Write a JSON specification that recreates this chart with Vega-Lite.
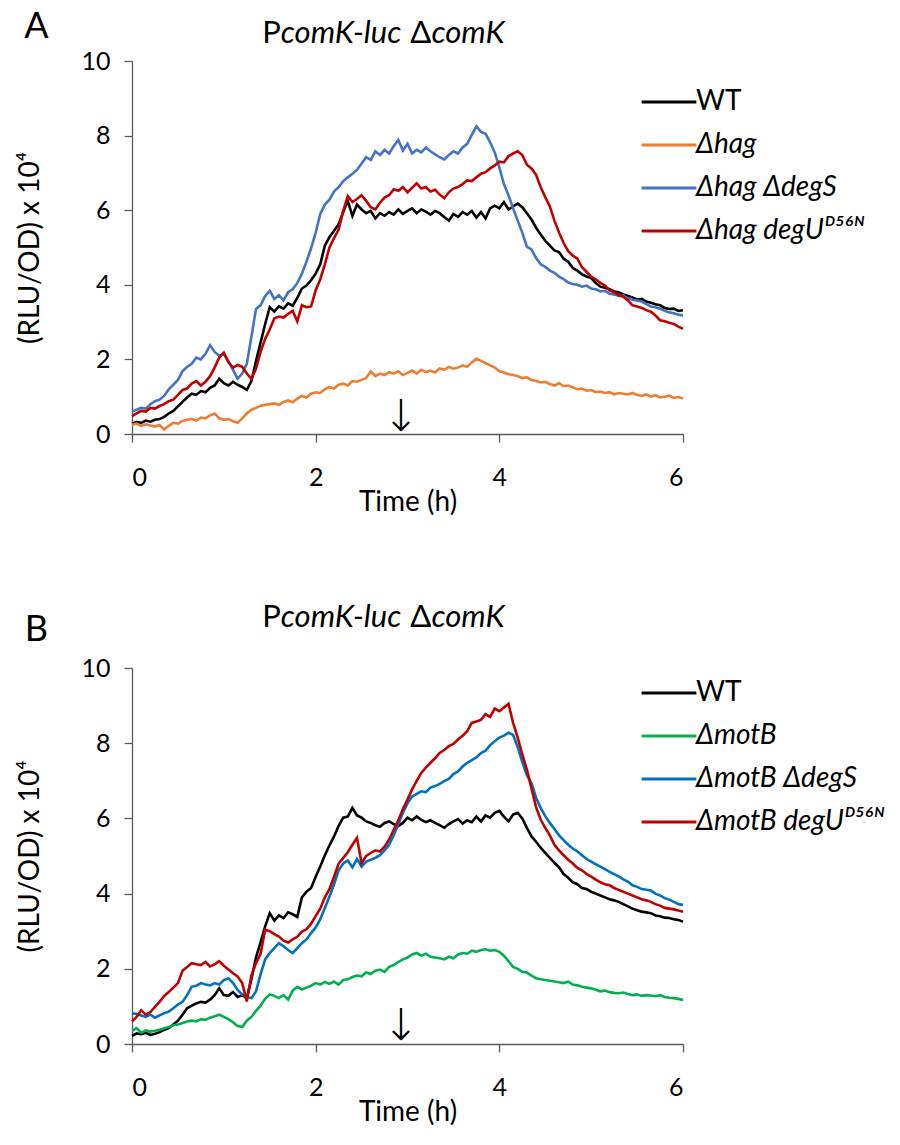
{
"$schema": "https://vega.github.io/schema/vega-lite/v6.json",
"background": "white",
"padding": {"left": 16, "top": 8, "right": 5, "bottom": 5},
"spacing": 86,
"resolve": {"scale": {"color": "independent"}, "legend": {"color": "independent"}},
"config": {
  "font": "Lato",
  "view": {"stroke": null},
  "axis": {"grid": false, "domainColor": "#595959", "tickColor": "#595959", "domainWidth": 1.3, "tickWidth": 1.3, "tickSize": 8, "labelColor": "#000", "titleColor": "#000", "labelFontSize": 25, "titleFontSize": 28, "titleFontWeight": "normal"},
  "legend": {"orient": "none", "symbolType": "stroke", "symbolSize": 3000, "symbolStrokeWidth": 3, "labelFontSize": 28, "labelOffset": -2, "rowPadding": -1, "labelLimit": 400, "labelColor": "#000"},
  "text": {"color": "#000"}
},
"datasets": {
"A": [
{"s":"WT","t":0,"v":0.28},{"s":"WT","t":0.05,"v":0.32},{"s":"WT","t":0.1,"v":0.30},{"s":"WT","t":0.15,"v":0.36},{"s":"WT","t":0.2,"v":0.33},{"s":"WT","t":0.25,"v":0.38},{"s":"WT","t":0.3,"v":0.40},{"s":"WT","t":0.35,"v":0.46},{"s":"WT","t":0.4,"v":0.55},{"s":"WT","t":0.45,"v":0.62},
{"s":"WT","t":0.5,"v":0.74},{"s":"WT","t":0.55,"v":0.86},{"s":"WT","t":0.6,"v":0.98},{"s":"WT","t":0.65,"v":1.08},{"s":"WT","t":0.7,"v":1.05},{"s":"WT","t":0.75,"v":1.15},{"s":"WT","t":0.8,"v":1.12},{"s":"WT","t":0.85,"v":1.24},{"s":"WT","t":0.9,"v":1.30},{"s":"WT","t":0.95,"v":1.48},
{"s":"WT","t":1.0,"v":1.36},{"s":"WT","t":1.05,"v":1.30},{"s":"WT","t":1.1,"v":1.40},{"s":"WT","t":1.15,"v":1.32},{"s":"WT","t":1.2,"v":1.26},{"s":"WT","t":1.25,"v":1.18},{"s":"WT","t":1.3,"v":1.42},{"s":"WT","t":1.35,"v":1.95},{"s":"WT","t":1.4,"v":2.45},{"s":"WT","t":1.45,"v":2.95},
{"s":"WT","t":1.5,"v":3.40},{"s":"WT","t":1.55,"v":3.28},{"s":"WT","t":1.6,"v":3.42},{"s":"WT","t":1.65,"v":3.36},{"s":"WT","t":1.7,"v":3.50},{"s":"WT","t":1.75,"v":3.44},{"s":"WT","t":1.8,"v":3.65},{"s":"WT","t":1.85,"v":3.90},{"s":"WT","t":1.9,"v":3.98},{"s":"WT","t":1.95,"v":4.12},
{"s":"WT","t":2.0,"v":4.30},{"s":"WT","t":2.05,"v":4.55},{"s":"WT","t":2.1,"v":5.05},{"s":"WT","t":2.15,"v":5.28},{"s":"WT","t":2.2,"v":5.45},{"s":"WT","t":2.25,"v":5.62},{"s":"WT","t":2.3,"v":5.95},{"s":"WT","t":2.35,"v":6.25},{"s":"WT","t":2.4,"v":5.85},{"s":"WT","t":2.45,"v":6.15},
{"s":"WT","t":2.5,"v":6.02},{"s":"WT","t":2.55,"v":5.92},{"s":"WT","t":2.6,"v":5.98},{"s":"WT","t":2.65,"v":5.78},{"s":"WT","t":2.7,"v":5.92},{"s":"WT","t":2.75,"v":5.85},{"s":"WT","t":2.8,"v":5.95},{"s":"WT","t":2.85,"v":5.88},{"s":"WT","t":2.9,"v":6.02},{"s":"WT","t":2.95,"v":5.90},
{"s":"WT","t":3.0,"v":5.98},{"s":"WT","t":3.05,"v":6.05},{"s":"WT","t":3.1,"v":5.92},{"s":"WT","t":3.15,"v":6.02},{"s":"WT","t":3.2,"v":5.96},{"s":"WT","t":3.25,"v":5.88},{"s":"WT","t":3.3,"v":5.98},{"s":"WT","t":3.35,"v":5.92},{"s":"WT","t":3.4,"v":5.82},{"s":"WT","t":3.45,"v":5.72},
{"s":"WT","t":3.5,"v":5.90},{"s":"WT","t":3.55,"v":5.82},{"s":"WT","t":3.6,"v":5.95},{"s":"WT","t":3.65,"v":5.88},{"s":"WT","t":3.7,"v":5.98},{"s":"WT","t":3.75,"v":5.80},{"s":"WT","t":3.8,"v":5.95},{"s":"WT","t":3.85,"v":5.78},{"s":"WT","t":3.9,"v":6.05},{"s":"WT","t":3.95,"v":6.12},
{"s":"WT","t":4.0,"v":6.05},{"s":"WT","t":4.05,"v":6.22},{"s":"WT","t":4.1,"v":6.02},{"s":"WT","t":4.15,"v":6.10},{"s":"WT","t":4.2,"v":6.18},{"s":"WT","t":4.25,"v":6.08},{"s":"WT","t":4.3,"v":5.92},{"s":"WT","t":4.35,"v":5.75},{"s":"WT","t":4.4,"v":5.53},{"s":"WT","t":4.45,"v":5.35},
{"s":"WT","t":4.5,"v":5.18},{"s":"WT","t":4.55,"v":5.05},{"s":"WT","t":4.6,"v":4.92},{"s":"WT","t":4.65,"v":4.88},{"s":"WT","t":4.7,"v":4.70},{"s":"WT","t":4.75,"v":4.62},{"s":"WT","t":4.8,"v":4.45},{"s":"WT","t":4.85,"v":4.38},{"s":"WT","t":4.9,"v":4.28},{"s":"WT","t":4.95,"v":4.22},
{"s":"WT","t":5.0,"v":4.18},{"s":"WT","t":5.05,"v":4.05},{"s":"WT","t":5.1,"v":3.95},{"s":"WT","t":5.15,"v":3.92},{"s":"WT","t":5.2,"v":3.88},{"s":"WT","t":5.25,"v":3.82},{"s":"WT","t":5.3,"v":3.80},{"s":"WT","t":5.35,"v":3.74},{"s":"WT","t":5.4,"v":3.70},{"s":"WT","t":5.45,"v":3.66},
{"s":"WT","t":5.5,"v":3.60},{"s":"WT","t":5.55,"v":3.62},{"s":"WT","t":5.6,"v":3.55},{"s":"WT","t":5.65,"v":3.52},{"s":"WT","t":5.7,"v":3.48},{"s":"WT","t":5.75,"v":3.45},{"s":"WT","t":5.8,"v":3.38},{"s":"WT","t":5.85,"v":3.35},{"s":"WT","t":5.9,"v":3.36},{"s":"WT","t":5.95,"v":3.30},{"s":"WT","t":6.0,"v":3.32},

{"s":"Δhag","t":0,"v":0.25},{"s":"Δhag","t":0.05,"v":0.28},{"s":"Δhag","t":0.1,"v":0.22},{"s":"Δhag","t":0.15,"v":0.26},{"s":"Δhag","t":0.2,"v":0.23},{"s":"Δhag","t":0.25,"v":0.20},{"s":"Δhag","t":0.3,"v":0.24},{"s":"Δhag","t":0.35,"v":0.12},{"s":"Δhag","t":0.4,"v":0.22},{"s":"Δhag","t":0.45,"v":0.30},
{"s":"Δhag","t":0.5,"v":0.28},{"s":"Δhag","t":0.55,"v":0.35},{"s":"Δhag","t":0.6,"v":0.38},{"s":"Δhag","t":0.65,"v":0.40},{"s":"Δhag","t":0.7,"v":0.36},{"s":"Δhag","t":0.75,"v":0.44},{"s":"Δhag","t":0.8,"v":0.42},{"s":"Δhag","t":0.85,"v":0.50},{"s":"Δhag","t":0.9,"v":0.55},{"s":"Δhag","t":0.95,"v":0.42},
{"s":"Δhag","t":1.0,"v":0.38},{"s":"Δhag","t":1.05,"v":0.40},{"s":"Δhag","t":1.1,"v":0.34},{"s":"Δhag","t":1.15,"v":0.30},{"s":"Δhag","t":1.2,"v":0.42},{"s":"Δhag","t":1.25,"v":0.55},{"s":"Δhag","t":1.3,"v":0.65},{"s":"Δhag","t":1.35,"v":0.70},{"s":"Δhag","t":1.4,"v":0.76},{"s":"Δhag","t":1.45,"v":0.78},
{"s":"Δhag","t":1.5,"v":0.80},{"s":"Δhag","t":1.55,"v":0.82},{"s":"Δhag","t":1.6,"v":0.78},{"s":"Δhag","t":1.65,"v":0.86},{"s":"Δhag","t":1.7,"v":0.90},{"s":"Δhag","t":1.75,"v":0.85},{"s":"Δhag","t":1.8,"v":0.95},{"s":"Δhag","t":1.85,"v":1.02},{"s":"Δhag","t":1.9,"v":0.98},{"s":"Δhag","t":1.95,"v":1.08},
{"s":"Δhag","t":2.0,"v":1.12},{"s":"Δhag","t":2.05,"v":1.10},{"s":"Δhag","t":2.1,"v":1.20},{"s":"Δhag","t":2.15,"v":1.26},{"s":"Δhag","t":2.2,"v":1.22},{"s":"Δhag","t":2.25,"v":1.32},{"s":"Δhag","t":2.3,"v":1.35},{"s":"Δhag","t":2.35,"v":1.30},{"s":"Δhag","t":2.4,"v":1.42},{"s":"Δhag","t":2.45,"v":1.40},
{"s":"Δhag","t":2.5,"v":1.45},{"s":"Δhag","t":2.55,"v":1.50},{"s":"Δhag","t":2.6,"v":1.68},{"s":"Δhag","t":2.65,"v":1.55},{"s":"Δhag","t":2.7,"v":1.62},{"s":"Δhag","t":2.75,"v":1.58},{"s":"Δhag","t":2.8,"v":1.66},{"s":"Δhag","t":2.85,"v":1.62},{"s":"Δhag","t":2.9,"v":1.68},{"s":"Δhag","t":2.95,"v":1.58},
{"s":"Δhag","t":3.0,"v":1.64},{"s":"Δhag","t":3.05,"v":1.70},{"s":"Δhag","t":3.1,"v":1.62},{"s":"Δhag","t":3.15,"v":1.72},{"s":"Δhag","t":3.2,"v":1.66},{"s":"Δhag","t":3.25,"v":1.70},{"s":"Δhag","t":3.3,"v":1.65},{"s":"Δhag","t":3.35,"v":1.76},{"s":"Δhag","t":3.4,"v":1.72},{"s":"Δhag","t":3.45,"v":1.80},
{"s":"Δhag","t":3.5,"v":1.75},{"s":"Δhag","t":3.55,"v":1.78},{"s":"Δhag","t":3.6,"v":1.84},{"s":"Δhag","t":3.65,"v":1.80},{"s":"Δhag","t":3.7,"v":1.92},{"s":"Δhag","t":3.75,"v":2.02},{"s":"Δhag","t":3.8,"v":1.96},{"s":"Δhag","t":3.85,"v":1.90},{"s":"Δhag","t":3.9,"v":1.84},{"s":"Δhag","t":3.95,"v":1.78},
{"s":"Δhag","t":4.0,"v":1.68},{"s":"Δhag","t":4.05,"v":1.65},{"s":"Δhag","t":4.1,"v":1.60},{"s":"Δhag","t":4.15,"v":1.58},{"s":"Δhag","t":4.2,"v":1.55},{"s":"Δhag","t":4.25,"v":1.50},{"s":"Δhag","t":4.3,"v":1.52},{"s":"Δhag","t":4.35,"v":1.45},{"s":"Δhag","t":4.4,"v":1.42},{"s":"Δhag","t":4.45,"v":1.38},
{"s":"Δhag","t":4.5,"v":1.40},{"s":"Δhag","t":4.55,"v":1.34},{"s":"Δhag","t":4.6,"v":1.30},{"s":"Δhag","t":4.65,"v":1.36},{"s":"Δhag","t":4.7,"v":1.28},{"s":"Δhag","t":4.75,"v":1.30},{"s":"Δhag","t":4.8,"v":1.25},{"s":"Δhag","t":4.85,"v":1.20},{"s":"Δhag","t":4.9,"v":1.22},{"s":"Δhag","t":4.95,"v":1.16},
{"s":"Δhag","t":5.0,"v":1.18},{"s":"Δhag","t":5.05,"v":1.12},{"s":"Δhag","t":5.1,"v":1.14},{"s":"Δhag","t":5.15,"v":1.10},{"s":"Δhag","t":5.2,"v":1.12},{"s":"Δhag","t":5.25,"v":1.06},{"s":"Δhag","t":5.3,"v":1.10},{"s":"Δhag","t":5.35,"v":1.08},{"s":"Δhag","t":5.4,"v":1.06},{"s":"Δhag","t":5.45,"v":1.10},
{"s":"Δhag","t":5.5,"v":1.05},{"s":"Δhag","t":5.55,"v":1.02},{"s":"Δhag","t":5.6,"v":1.06},{"s":"Δhag","t":5.65,"v":1.00},{"s":"Δhag","t":5.7,"v":1.04},{"s":"Δhag","t":5.75,"v":0.98},{"s":"Δhag","t":5.8,"v":1.00},{"s":"Δhag","t":5.85,"v":1.03},{"s":"Δhag","t":5.9,"v":0.97},{"s":"Δhag","t":5.95,"v":0.99},{"s":"Δhag","t":6.0,"v":0.95},

{"s":"Δhag ΔdegS","t":0,"v":0.60},{"s":"Δhag ΔdegS","t":0.05,"v":0.65},{"s":"Δhag ΔdegS","t":0.1,"v":0.70},{"s":"Δhag ΔdegS","t":0.15,"v":0.68},{"s":"Δhag ΔdegS","t":0.2,"v":0.80},{"s":"Δhag ΔdegS","t":0.25,"v":0.88},{"s":"Δhag ΔdegS","t":0.3,"v":0.92},{"s":"Δhag ΔdegS","t":0.35,"v":1.02},{"s":"Δhag ΔdegS","t":0.4,"v":1.20},{"s":"Δhag ΔdegS","t":0.45,"v":1.32},
{"s":"Δhag ΔdegS","t":0.5,"v":1.45},{"s":"Δhag ΔdegS","t":0.55,"v":1.68},{"s":"Δhag ΔdegS","t":0.6,"v":1.80},{"s":"Δhag ΔdegS","t":0.65,"v":1.88},{"s":"Δhag ΔdegS","t":0.7,"v":2.05},{"s":"Δhag ΔdegS","t":0.75,"v":2.00},{"s":"Δhag ΔdegS","t":0.8,"v":2.15},{"s":"Δhag ΔdegS","t":0.85,"v":2.38},{"s":"Δhag ΔdegS","t":0.9,"v":2.20},{"s":"Δhag ΔdegS","t":0.95,"v":2.10},
{"s":"Δhag ΔdegS","t":1.0,"v":2.15},{"s":"Δhag ΔdegS","t":1.05,"v":1.95},{"s":"Δhag ΔdegS","t":1.1,"v":1.72},{"s":"Δhag ΔdegS","t":1.15,"v":1.48},{"s":"Δhag ΔdegS","t":1.2,"v":1.62},{"s":"Δhag ΔdegS","t":1.25,"v":1.88},{"s":"Δhag ΔdegS","t":1.3,"v":2.60},{"s":"Δhag ΔdegS","t":1.35,"v":3.35},{"s":"Δhag ΔdegS","t":1.4,"v":3.45},{"s":"Δhag ΔdegS","t":1.45,"v":3.70},
{"s":"Δhag ΔdegS","t":1.5,"v":3.84},{"s":"Δhag ΔdegS","t":1.55,"v":3.62},{"s":"Δhag ΔdegS","t":1.6,"v":3.72},{"s":"Δhag ΔdegS","t":1.65,"v":3.58},{"s":"Δhag ΔdegS","t":1.7,"v":3.80},{"s":"Δhag ΔdegS","t":1.75,"v":3.88},{"s":"Δhag ΔdegS","t":1.8,"v":4.05},{"s":"Δhag ΔdegS","t":1.85,"v":4.30},{"s":"Δhag ΔdegS","t":1.9,"v":4.62},{"s":"Δhag ΔdegS","t":1.95,"v":4.98},
{"s":"Δhag ΔdegS","t":2.0,"v":5.40},{"s":"Δhag ΔdegS","t":2.05,"v":5.90},{"s":"Δhag ΔdegS","t":2.1,"v":6.15},{"s":"Δhag ΔdegS","t":2.15,"v":6.28},{"s":"Δhag ΔdegS","t":2.2,"v":6.50},{"s":"Δhag ΔdegS","t":2.25,"v":6.62},{"s":"Δhag ΔdegS","t":2.3,"v":6.78},{"s":"Δhag ΔdegS","t":2.35,"v":6.88},{"s":"Δhag ΔdegS","t":2.4,"v":6.98},{"s":"Δhag ΔdegS","t":2.45,"v":7.08},
{"s":"Δhag ΔdegS","t":2.5,"v":7.25},{"s":"Δhag ΔdegS","t":2.55,"v":7.42},{"s":"Δhag ΔdegS","t":2.6,"v":7.35},{"s":"Δhag ΔdegS","t":2.65,"v":7.58},{"s":"Δhag ΔdegS","t":2.7,"v":7.48},{"s":"Δhag ΔdegS","t":2.75,"v":7.62},{"s":"Δhag ΔdegS","t":2.8,"v":7.52},{"s":"Δhag ΔdegS","t":2.85,"v":7.72},{"s":"Δhag ΔdegS","t":2.9,"v":7.88},{"s":"Δhag ΔdegS","t":2.95,"v":7.60},
{"s":"Δhag ΔdegS","t":3.0,"v":7.78},{"s":"Δhag ΔdegS","t":3.05,"v":7.52},{"s":"Δhag ΔdegS","t":3.1,"v":7.62},{"s":"Δhag ΔdegS","t":3.15,"v":7.55},{"s":"Δhag ΔdegS","t":3.2,"v":7.68},{"s":"Δhag ΔdegS","t":3.25,"v":7.58},{"s":"Δhag ΔdegS","t":3.3,"v":7.50},{"s":"Δhag ΔdegS","t":3.35,"v":7.42},{"s":"Δhag ΔdegS","t":3.4,"v":7.36},{"s":"Δhag ΔdegS","t":3.45,"v":7.48},
{"s":"Δhag ΔdegS","t":3.5,"v":7.58},{"s":"Δhag ΔdegS","t":3.55,"v":7.52},{"s":"Δhag ΔdegS","t":3.6,"v":7.68},{"s":"Δhag ΔdegS","t":3.65,"v":7.78},{"s":"Δhag ΔdegS","t":3.7,"v":8.02},{"s":"Δhag ΔdegS","t":3.75,"v":8.25},{"s":"Δhag ΔdegS","t":3.8,"v":8.10},{"s":"Δhag ΔdegS","t":3.85,"v":8.05},{"s":"Δhag ΔdegS","t":3.9,"v":7.82},{"s":"Δhag ΔdegS","t":3.95,"v":7.55},
{"s":"Δhag ΔdegS","t":4.0,"v":7.15},{"s":"Δhag ΔdegS","t":4.05,"v":6.70},{"s":"Δhag ΔdegS","t":4.1,"v":6.40},{"s":"Δhag ΔdegS","t":4.15,"v":6.05},{"s":"Δhag ΔdegS","t":4.2,"v":5.72},{"s":"Δhag ΔdegS","t":4.25,"v":5.40},{"s":"Δhag ΔdegS","t":4.3,"v":5.02},{"s":"Δhag ΔdegS","t":4.35,"v":4.95},{"s":"Δhag ΔdegS","t":4.4,"v":4.72},{"s":"Δhag ΔdegS","t":4.45,"v":4.55},
{"s":"Δhag ΔdegS","t":4.5,"v":4.48},{"s":"Δhag ΔdegS","t":4.55,"v":4.38},{"s":"Δhag ΔdegS","t":4.6,"v":4.32},{"s":"Δhag ΔdegS","t":4.65,"v":4.22},{"s":"Δhag ΔdegS","t":4.7,"v":4.15},{"s":"Δhag ΔdegS","t":4.75,"v":4.06},{"s":"Δhag ΔdegS","t":4.8,"v":4.02},{"s":"Δhag ΔdegS","t":4.85,"v":4.00},{"s":"Δhag ΔdegS","t":4.9,"v":3.95},{"s":"Δhag ΔdegS","t":4.95,"v":3.98},
{"s":"Δhag ΔdegS","t":5.0,"v":3.90},{"s":"Δhag ΔdegS","t":5.05,"v":3.88},{"s":"Δhag ΔdegS","t":5.1,"v":3.82},{"s":"Δhag ΔdegS","t":5.15,"v":3.84},{"s":"Δhag ΔdegS","t":5.2,"v":3.76},{"s":"Δhag ΔdegS","t":5.25,"v":3.74},{"s":"Δhag ΔdegS","t":5.3,"v":3.70},{"s":"Δhag ΔdegS","t":5.35,"v":3.72},{"s":"Δhag ΔdegS","t":5.4,"v":3.64},{"s":"Δhag ΔdegS","t":5.45,"v":3.60},
{"s":"Δhag ΔdegS","t":5.5,"v":3.58},{"s":"Δhag ΔdegS","t":5.55,"v":3.55},{"s":"Δhag ΔdegS","t":5.6,"v":3.48},{"s":"Δhag ΔdegS","t":5.65,"v":3.42},{"s":"Δhag ΔdegS","t":5.7,"v":3.40},{"s":"Δhag ΔdegS","t":5.75,"v":3.36},{"s":"Δhag ΔdegS","t":5.8,"v":3.30},{"s":"Δhag ΔdegS","t":5.85,"v":3.26},{"s":"Δhag ΔdegS","t":5.9,"v":3.24},{"s":"Δhag ΔdegS","t":5.95,"v":3.20},{"s":"Δhag ΔdegS","t":6.0,"v":3.18},

{"s":"Δhag degUᴰ⁵⁶ᴺ","t":0,"v":0.48},{"s":"Δhag degUᴰ⁵⁶ᴺ","t":0.05,"v":0.55},{"s":"Δhag degUᴰ⁵⁶ᴺ","t":0.1,"v":0.62},{"s":"Δhag degUᴰ⁵⁶ᴺ","t":0.15,"v":0.60},{"s":"Δhag degUᴰ⁵⁶ᴺ","t":0.2,"v":0.70},{"s":"Δhag degUᴰ⁵⁶ᴺ","t":0.25,"v":0.68},{"s":"Δhag degUᴰ⁵⁶ᴺ","t":0.3,"v":0.75},{"s":"Δhag degUᴰ⁵⁶ᴺ","t":0.35,"v":0.80},{"s":"Δhag degUᴰ⁵⁶ᴺ","t":0.4,"v":0.88},{"s":"Δhag degUᴰ⁵⁶ᴺ","t":0.45,"v":0.92},
{"s":"Δhag degUᴰ⁵⁶ᴺ","t":0.5,"v":1.05},{"s":"Δhag degUᴰ⁵⁶ᴺ","t":0.55,"v":1.18},{"s":"Δhag degUᴰ⁵⁶ᴺ","t":0.6,"v":1.22},{"s":"Δhag degUᴰ⁵⁶ᴺ","t":0.65,"v":1.35},{"s":"Δhag degUᴰ⁵⁶ᴺ","t":0.7,"v":1.42},{"s":"Δhag degUᴰ⁵⁶ᴺ","t":0.75,"v":1.30},{"s":"Δhag degUᴰ⁵⁶ᴺ","t":0.8,"v":1.40},{"s":"Δhag degUᴰ⁵⁶ᴺ","t":0.85,"v":1.55},{"s":"Δhag degUᴰ⁵⁶ᴺ","t":0.9,"v":1.78},{"s":"Δhag degUᴰ⁵⁶ᴺ","t":0.95,"v":2.05},
{"s":"Δhag degUᴰ⁵⁶ᴺ","t":1.0,"v":2.18},{"s":"Δhag degUᴰ⁵⁶ᴺ","t":1.05,"v":1.92},{"s":"Δhag degUᴰ⁵⁶ᴺ","t":1.1,"v":1.78},{"s":"Δhag degUᴰ⁵⁶ᴺ","t":1.15,"v":1.85},{"s":"Δhag degUᴰ⁵⁶ᴺ","t":1.2,"v":1.80},{"s":"Δhag degUᴰ⁵⁶ᴺ","t":1.25,"v":1.62},{"s":"Δhag degUᴰ⁵⁶ᴺ","t":1.3,"v":1.48},{"s":"Δhag degUᴰ⁵⁶ᴺ","t":1.35,"v":1.75},{"s":"Δhag degUᴰ⁵⁶ᴺ","t":1.4,"v":2.20},{"s":"Δhag degUᴰ⁵⁶ᴺ","t":1.45,"v":2.55},
{"s":"Δhag degUᴰ⁵⁶ᴺ","t":1.5,"v":2.80},{"s":"Δhag degUᴰ⁵⁶ᴺ","t":1.55,"v":3.10},{"s":"Δhag degUᴰ⁵⁶ᴺ","t":1.6,"v":3.15},{"s":"Δhag degUᴰ⁵⁶ᴺ","t":1.65,"v":3.12},{"s":"Δhag degUᴰ⁵⁶ᴺ","t":1.7,"v":3.22},{"s":"Δhag degUᴰ⁵⁶ᴺ","t":1.75,"v":3.30},{"s":"Δhag degUᴰ⁵⁶ᴺ","t":1.8,"v":3.02},{"s":"Δhag degUᴰ⁵⁶ᴺ","t":1.85,"v":3.45},{"s":"Δhag degUᴰ⁵⁶ᴺ","t":1.9,"v":3.40},{"s":"Δhag degUᴰ⁵⁶ᴺ","t":1.95,"v":3.42},
{"s":"Δhag degUᴰ⁵⁶ᴺ","t":2.0,"v":3.85},{"s":"Δhag degUᴰ⁵⁶ᴺ","t":2.05,"v":4.15},{"s":"Δhag degUᴰ⁵⁶ᴺ","t":2.1,"v":4.55},{"s":"Δhag degUᴰ⁵⁶ᴺ","t":2.15,"v":5.00},{"s":"Δhag degUᴰ⁵⁶ᴺ","t":2.2,"v":5.25},{"s":"Δhag degUᴰ⁵⁶ᴺ","t":2.25,"v":5.48},{"s":"Δhag degUᴰ⁵⁶ᴺ","t":2.3,"v":5.98},{"s":"Δhag degUᴰ⁵⁶ᴺ","t":2.35,"v":6.38},{"s":"Δhag degUᴰ⁵⁶ᴺ","t":2.4,"v":6.22},{"s":"Δhag degUᴰ⁵⁶ᴺ","t":2.45,"v":6.30},
{"s":"Δhag degUᴰ⁵⁶ᴺ","t":2.5,"v":6.40},{"s":"Δhag degUᴰ⁵⁶ᴺ","t":2.55,"v":6.25},{"s":"Δhag degUᴰ⁵⁶ᴺ","t":2.6,"v":6.08},{"s":"Δhag degUᴰ⁵⁶ᴺ","t":2.65,"v":6.02},{"s":"Δhag degUᴰ⁵⁶ᴺ","t":2.7,"v":6.20},{"s":"Δhag degUᴰ⁵⁶ᴺ","t":2.75,"v":6.34},{"s":"Δhag degUᴰ⁵⁶ᴺ","t":2.8,"v":6.40},{"s":"Δhag degUᴰ⁵⁶ᴺ","t":2.85,"v":6.56},{"s":"Δhag degUᴰ⁵⁶ᴺ","t":2.9,"v":6.52},{"s":"Δhag degUᴰ⁵⁶ᴺ","t":2.95,"v":6.62},
{"s":"Δhag degUᴰ⁵⁶ᴺ","t":3.0,"v":6.48},{"s":"Δhag degUᴰ⁵⁶ᴺ","t":3.05,"v":6.60},{"s":"Δhag degUᴰ⁵⁶ᴺ","t":3.1,"v":6.72},{"s":"Δhag degUᴰ⁵⁶ᴺ","t":3.15,"v":6.58},{"s":"Δhag degUᴰ⁵⁶ᴺ","t":3.2,"v":6.62},{"s":"Δhag degUᴰ⁵⁶ᴺ","t":3.25,"v":6.50},{"s":"Δhag degUᴰ⁵⁶ᴺ","t":3.3,"v":6.55},{"s":"Δhag degUᴰ⁵⁶ᴺ","t":3.35,"v":6.42},{"s":"Δhag degUᴰ⁵⁶ᴺ","t":3.4,"v":6.32},{"s":"Δhag degUᴰ⁵⁶ᴺ","t":3.45,"v":6.48},
{"s":"Δhag degUᴰ⁵⁶ᴺ","t":3.5,"v":6.58},{"s":"Δhag degUᴰ⁵⁶ᴺ","t":3.55,"v":6.62},{"s":"Δhag degUᴰ⁵⁶ᴺ","t":3.6,"v":6.70},{"s":"Δhag degUᴰ⁵⁶ᴺ","t":3.65,"v":6.80},{"s":"Δhag degUᴰ⁵⁶ᴺ","t":3.7,"v":6.78},{"s":"Δhag degUᴰ⁵⁶ᴺ","t":3.75,"v":6.88},{"s":"Δhag degUᴰ⁵⁶ᴺ","t":3.8,"v":6.98},{"s":"Δhag degUᴰ⁵⁶ᴺ","t":3.85,"v":7.02},{"s":"Δhag degUᴰ⁵⁶ᴺ","t":3.9,"v":7.12},{"s":"Δhag degUᴰ⁵⁶ᴺ","t":3.95,"v":7.20},
{"s":"Δhag degUᴰ⁵⁶ᴺ","t":4.0,"v":7.30},{"s":"Δhag degUᴰ⁵⁶ᴺ","t":4.05,"v":7.28},{"s":"Δhag degUᴰ⁵⁶ᴺ","t":4.1,"v":7.45},{"s":"Δhag degUᴰ⁵⁶ᴺ","t":4.15,"v":7.52},{"s":"Δhag degUᴰ⁵⁶ᴺ","t":4.2,"v":7.58},{"s":"Δhag degUᴰ⁵⁶ᴺ","t":4.25,"v":7.48},{"s":"Δhag degUᴰ⁵⁶ᴺ","t":4.3,"v":7.22},{"s":"Δhag degUᴰ⁵⁶ᴺ","t":4.35,"v":7.12},{"s":"Δhag degUᴰ⁵⁶ᴺ","t":4.4,"v":6.95},{"s":"Δhag degUᴰ⁵⁶ᴺ","t":4.45,"v":6.62},
{"s":"Δhag degUᴰ⁵⁶ᴺ","t":4.5,"v":6.35},{"s":"Δhag degUᴰ⁵⁶ᴺ","t":4.55,"v":6.10},{"s":"Δhag degUᴰ⁵⁶ᴺ","t":4.6,"v":5.72},{"s":"Δhag degUᴰ⁵⁶ᴺ","t":4.65,"v":5.40},{"s":"Δhag degUᴰ⁵⁶ᴺ","t":4.7,"v":5.12},{"s":"Δhag degUᴰ⁵⁶ᴺ","t":4.75,"v":4.90},{"s":"Δhag degUᴰ⁵⁶ᴺ","t":4.8,"v":4.78},{"s":"Δhag degUᴰ⁵⁶ᴺ","t":4.85,"v":4.70},{"s":"Δhag degUᴰ⁵⁶ᴺ","t":4.9,"v":4.47},{"s":"Δhag degUᴰ⁵⁶ᴺ","t":4.95,"v":4.35},
{"s":"Δhag degUᴰ⁵⁶ᴺ","t":5.0,"v":4.22},{"s":"Δhag degUᴰ⁵⁶ᴺ","t":5.05,"v":4.15},{"s":"Δhag degUᴰ⁵⁶ᴺ","t":5.1,"v":4.05},{"s":"Δhag degUᴰ⁵⁶ᴺ","t":5.15,"v":3.98},{"s":"Δhag degUᴰ⁵⁶ᴺ","t":5.2,"v":3.85},{"s":"Δhag degUᴰ⁵⁶ᴺ","t":5.25,"v":3.80},{"s":"Δhag degUᴰ⁵⁶ᴺ","t":5.3,"v":3.72},{"s":"Δhag degUᴰ⁵⁶ᴺ","t":5.35,"v":3.68},{"s":"Δhag degUᴰ⁵⁶ᴺ","t":5.4,"v":3.58},{"s":"Δhag degUᴰ⁵⁶ᴺ","t":5.45,"v":3.45},
{"s":"Δhag degUᴰ⁵⁶ᴺ","t":5.5,"v":3.42},{"s":"Δhag degUᴰ⁵⁶ᴺ","t":5.55,"v":3.38},{"s":"Δhag degUᴰ⁵⁶ᴺ","t":5.6,"v":3.32},{"s":"Δhag degUᴰ⁵⁶ᴺ","t":5.65,"v":3.28},{"s":"Δhag degUᴰ⁵⁶ᴺ","t":5.7,"v":3.18},{"s":"Δhag degUᴰ⁵⁶ᴺ","t":5.75,"v":3.05},{"s":"Δhag degUᴰ⁵⁶ᴺ","t":5.8,"v":3.02},{"s":"Δhag degUᴰ⁵⁶ᴺ","t":5.85,"v":2.98},{"s":"Δhag degUᴰ⁵⁶ᴺ","t":5.9,"v":2.95},{"s":"Δhag degUᴰ⁵⁶ᴺ","t":5.95,"v":2.88},{"s":"Δhag degUᴰ⁵⁶ᴺ","t":6.0,"v":2.82}
],
"B": [
{"s":"WT","t":0,"v":0.22},{"s":"WT","t":0.05,"v":0.28},{"s":"WT","t":0.1,"v":0.26},{"s":"WT","t":0.15,"v":0.30},{"s":"WT","t":0.2,"v":0.24},{"s":"WT","t":0.25,"v":0.27},{"s":"WT","t":0.3,"v":0.32},{"s":"WT","t":0.35,"v":0.38},{"s":"WT","t":0.4,"v":0.42},{"s":"WT","t":0.45,"v":0.52},
{"s":"WT","t":0.5,"v":0.62},{"s":"WT","t":0.55,"v":0.78},{"s":"WT","t":0.6,"v":0.95},{"s":"WT","t":0.65,"v":1.02},{"s":"WT","t":0.7,"v":1.08},{"s":"WT","t":0.75,"v":1.12},{"s":"WT","t":0.8,"v":1.10},{"s":"WT","t":0.85,"v":1.18},{"s":"WT","t":0.9,"v":1.30},{"s":"WT","t":0.95,"v":1.48},
{"s":"WT","t":1.0,"v":1.30},{"s":"WT","t":1.05,"v":1.28},{"s":"WT","t":1.1,"v":1.38},{"s":"WT","t":1.15,"v":1.25},{"s":"WT","t":1.2,"v":1.30},{"s":"WT","t":1.25,"v":1.22},{"s":"WT","t":1.3,"v":1.72},{"s":"WT","t":1.35,"v":2.30},{"s":"WT","t":1.4,"v":2.70},{"s":"WT","t":1.45,"v":3.13},
{"s":"WT","t":1.5,"v":3.48},{"s":"WT","t":1.55,"v":3.28},{"s":"WT","t":1.6,"v":3.42},{"s":"WT","t":1.65,"v":3.35},{"s":"WT","t":1.7,"v":3.50},{"s":"WT","t":1.75,"v":3.45},{"s":"WT","t":1.8,"v":3.38},{"s":"WT","t":1.85,"v":3.90},{"s":"WT","t":1.9,"v":4.05},{"s":"WT","t":1.95,"v":4.15},
{"s":"WT","t":2.0,"v":4.45},{"s":"WT","t":2.05,"v":4.72},{"s":"WT","t":2.1,"v":5.02},{"s":"WT","t":2.15,"v":5.28},{"s":"WT","t":2.2,"v":5.52},{"s":"WT","t":2.25,"v":5.80},{"s":"WT","t":2.3,"v":6.02},{"s":"WT","t":2.35,"v":6.05},{"s":"WT","t":2.4,"v":6.28},{"s":"WT","t":2.45,"v":6.08},
{"s":"WT","t":2.5,"v":6.02},{"s":"WT","t":2.55,"v":5.92},{"s":"WT","t":2.6,"v":5.88},{"s":"WT","t":2.65,"v":5.82},{"s":"WT","t":2.7,"v":5.78},{"s":"WT","t":2.75,"v":5.88},{"s":"WT","t":2.8,"v":5.92},{"s":"WT","t":2.85,"v":5.85},{"s":"WT","t":2.9,"v":5.80},{"s":"WT","t":2.95,"v":5.88},
{"s":"WT","t":3.0,"v":6.02},{"s":"WT","t":3.05,"v":5.95},{"s":"WT","t":3.1,"v":6.05},{"s":"WT","t":3.15,"v":5.96},{"s":"WT","t":3.2,"v":5.90},{"s":"WT","t":3.25,"v":5.95},{"s":"WT","t":3.3,"v":5.88},{"s":"WT","t":3.35,"v":5.82},{"s":"WT","t":3.4,"v":5.75},{"s":"WT","t":3.45,"v":5.85},
{"s":"WT","t":3.5,"v":5.92},{"s":"WT","t":3.55,"v":5.98},{"s":"WT","t":3.6,"v":5.86},{"s":"WT","t":3.65,"v":5.95},{"s":"WT","t":3.7,"v":5.90},{"s":"WT","t":3.75,"v":6.05},{"s":"WT","t":3.8,"v":5.92},{"s":"WT","t":3.85,"v":6.08},{"s":"WT","t":3.9,"v":6.02},{"s":"WT","t":3.95,"v":6.15},
{"s":"WT","t":4.0,"v":6.20},{"s":"WT","t":4.05,"v":6.05},{"s":"WT","t":4.1,"v":5.92},{"s":"WT","t":4.15,"v":6.10},{"s":"WT","t":4.2,"v":6.15},{"s":"WT","t":4.25,"v":6.00},{"s":"WT","t":4.3,"v":5.75},{"s":"WT","t":4.35,"v":5.52},{"s":"WT","t":4.4,"v":5.38},{"s":"WT","t":4.45,"v":5.22},
{"s":"WT","t":4.5,"v":5.08},{"s":"WT","t":4.55,"v":4.95},{"s":"WT","t":4.6,"v":4.82},{"s":"WT","t":4.65,"v":4.70},{"s":"WT","t":4.7,"v":4.52},{"s":"WT","t":4.75,"v":4.42},{"s":"WT","t":4.8,"v":4.30},{"s":"WT","t":4.85,"v":4.25},{"s":"WT","t":4.9,"v":4.15},{"s":"WT","t":4.95,"v":4.12},
{"s":"WT","t":5.0,"v":4.05},{"s":"WT","t":5.05,"v":4.00},{"s":"WT","t":5.1,"v":3.95},{"s":"WT","t":5.15,"v":3.90},{"s":"WT","t":5.2,"v":3.85},{"s":"WT","t":5.25,"v":3.82},{"s":"WT","t":5.3,"v":3.78},{"s":"WT","t":5.35,"v":3.72},{"s":"WT","t":5.4,"v":3.66},{"s":"WT","t":5.45,"v":3.60},
{"s":"WT","t":5.5,"v":3.56},{"s":"WT","t":5.55,"v":3.52},{"s":"WT","t":5.6,"v":3.50},{"s":"WT","t":5.65,"v":3.48},{"s":"WT","t":5.7,"v":3.42},{"s":"WT","t":5.75,"v":3.40},{"s":"WT","t":5.8,"v":3.36},{"s":"WT","t":5.85,"v":3.35},{"s":"WT","t":5.9,"v":3.32},{"s":"WT","t":5.95,"v":3.30},{"s":"WT","t":6.0,"v":3.25},

{"s":"ΔmotB","t":0,"v":0.35},{"s":"ΔmotB","t":0.05,"v":0.42},{"s":"ΔmotB","t":0.1,"v":0.30},{"s":"ΔmotB","t":0.15,"v":0.36},{"s":"ΔmotB","t":0.2,"v":0.33},{"s":"ΔmotB","t":0.25,"v":0.35},{"s":"ΔmotB","t":0.3,"v":0.38},{"s":"ΔmotB","t":0.35,"v":0.42},{"s":"ΔmotB","t":0.4,"v":0.45},{"s":"ΔmotB","t":0.45,"v":0.50},
{"s":"ΔmotB","t":0.5,"v":0.52},{"s":"ΔmotB","t":0.55,"v":0.56},{"s":"ΔmotB","t":0.6,"v":0.60},{"s":"ΔmotB","t":0.65,"v":0.62},{"s":"ΔmotB","t":0.7,"v":0.60},{"s":"ΔmotB","t":0.75,"v":0.66},{"s":"ΔmotB","t":0.8,"v":0.64},{"s":"ΔmotB","t":0.85,"v":0.70},{"s":"ΔmotB","t":0.9,"v":0.74},{"s":"ΔmotB","t":0.95,"v":0.78},
{"s":"ΔmotB","t":1.0,"v":0.72},{"s":"ΔmotB","t":1.05,"v":0.66},{"s":"ΔmotB","t":1.1,"v":0.58},{"s":"ΔmotB","t":1.15,"v":0.48},{"s":"ΔmotB","t":1.2,"v":0.45},{"s":"ΔmotB","t":1.25,"v":0.62},{"s":"ΔmotB","t":1.3,"v":0.72},{"s":"ΔmotB","t":1.35,"v":0.88},{"s":"ΔmotB","t":1.4,"v":1.02},{"s":"ΔmotB","t":1.45,"v":1.20},
{"s":"ΔmotB","t":1.5,"v":1.32},{"s":"ΔmotB","t":1.55,"v":1.28},{"s":"ΔmotB","t":1.6,"v":1.22},{"s":"ΔmotB","t":1.65,"v":1.30},{"s":"ΔmotB","t":1.7,"v":1.18},{"s":"ΔmotB","t":1.75,"v":1.42},{"s":"ΔmotB","t":1.8,"v":1.52},{"s":"ΔmotB","t":1.85,"v":1.45},{"s":"ΔmotB","t":1.9,"v":1.50},{"s":"ΔmotB","t":1.95,"v":1.55},
{"s":"ΔmotB","t":2.0,"v":1.62},{"s":"ΔmotB","t":2.05,"v":1.58},{"s":"ΔmotB","t":2.1,"v":1.65},{"s":"ΔmotB","t":2.15,"v":1.60},{"s":"ΔmotB","t":2.2,"v":1.66},{"s":"ΔmotB","t":2.25,"v":1.58},{"s":"ΔmotB","t":2.3,"v":1.70},{"s":"ΔmotB","t":2.35,"v":1.72},{"s":"ΔmotB","t":2.4,"v":1.78},{"s":"ΔmotB","t":2.45,"v":1.82},
{"s":"ΔmotB","t":2.5,"v":1.80},{"s":"ΔmotB","t":2.55,"v":1.90},{"s":"ΔmotB","t":2.6,"v":1.86},{"s":"ΔmotB","t":2.65,"v":1.95},{"s":"ΔmotB","t":2.7,"v":1.98},{"s":"ΔmotB","t":2.75,"v":1.92},{"s":"ΔmotB","t":2.8,"v":2.05},{"s":"ΔmotB","t":2.85,"v":2.10},{"s":"ΔmotB","t":2.9,"v":2.18},{"s":"ΔmotB","t":2.95,"v":2.25},
{"s":"ΔmotB","t":3.0,"v":2.30},{"s":"ΔmotB","t":3.05,"v":2.38},{"s":"ΔmotB","t":3.1,"v":2.42},{"s":"ΔmotB","t":3.15,"v":2.35},{"s":"ΔmotB","t":3.2,"v":2.40},{"s":"ΔmotB","t":3.25,"v":2.32},{"s":"ΔmotB","t":3.3,"v":2.30},{"s":"ΔmotB","t":3.35,"v":2.28},{"s":"ΔmotB","t":3.4,"v":2.25},{"s":"ΔmotB","t":3.45,"v":2.32},
{"s":"ΔmotB","t":3.5,"v":2.28},{"s":"ΔmotB","t":3.55,"v":2.38},{"s":"ΔmotB","t":3.6,"v":2.42},{"s":"ΔmotB","t":3.65,"v":2.40},{"s":"ΔmotB","t":3.7,"v":2.48},{"s":"ΔmotB","t":3.75,"v":2.45},{"s":"ΔmotB","t":3.8,"v":2.50},{"s":"ΔmotB","t":3.85,"v":2.52},{"s":"ΔmotB","t":3.9,"v":2.48},{"s":"ΔmotB","t":3.95,"v":2.50},
{"s":"ΔmotB","t":4.0,"v":2.45},{"s":"ΔmotB","t":4.05,"v":2.35},{"s":"ΔmotB","t":4.1,"v":2.20},{"s":"ΔmotB","t":4.15,"v":2.05},{"s":"ΔmotB","t":4.2,"v":2.00},{"s":"ΔmotB","t":4.25,"v":1.92},{"s":"ΔmotB","t":4.3,"v":1.90},{"s":"ΔmotB","t":4.35,"v":1.82},{"s":"ΔmotB","t":4.4,"v":1.75},{"s":"ΔmotB","t":4.45,"v":1.72},
{"s":"ΔmotB","t":4.5,"v":1.70},{"s":"ΔmotB","t":4.55,"v":1.68},{"s":"ΔmotB","t":4.6,"v":1.66},{"s":"ΔmotB","t":4.65,"v":1.64},{"s":"ΔmotB","t":4.7,"v":1.62},{"s":"ΔmotB","t":4.75,"v":1.66},{"s":"ΔmotB","t":4.8,"v":1.58},{"s":"ΔmotB","t":4.85,"v":1.56},{"s":"ΔmotB","t":4.9,"v":1.52},{"s":"ΔmotB","t":4.95,"v":1.50},
{"s":"ΔmotB","t":5.0,"v":1.48},{"s":"ΔmotB","t":5.05,"v":1.44},{"s":"ΔmotB","t":5.1,"v":1.40},{"s":"ΔmotB","t":5.15,"v":1.42},{"s":"ΔmotB","t":5.2,"v":1.38},{"s":"ΔmotB","t":5.25,"v":1.36},{"s":"ΔmotB","t":5.3,"v":1.35},{"s":"ΔmotB","t":5.35,"v":1.37},{"s":"ΔmotB","t":5.4,"v":1.33},{"s":"ΔmotB","t":5.45,"v":1.30},
{"s":"ΔmotB","t":5.5,"v":1.32},{"s":"ΔmotB","t":5.55,"v":1.28},{"s":"ΔmotB","t":5.6,"v":1.30},{"s":"ΔmotB","t":5.65,"v":1.29},{"s":"ΔmotB","t":5.7,"v":1.27},{"s":"ΔmotB","t":5.75,"v":1.30},{"s":"ΔmotB","t":5.8,"v":1.25},{"s":"ΔmotB","t":5.85,"v":1.23},{"s":"ΔmotB","t":5.9,"v":1.22},{"s":"ΔmotB","t":5.95,"v":1.20},{"s":"ΔmotB","t":6.0,"v":1.17},

{"s":"ΔmotB ΔdegS","t":0,"v":0.82},{"s":"ΔmotB ΔdegS","t":0.05,"v":0.80},{"s":"ΔmotB ΔdegS","t":0.1,"v":0.76},{"s":"ΔmotB ΔdegS","t":0.15,"v":0.72},{"s":"ΔmotB ΔdegS","t":0.2,"v":0.78},{"s":"ΔmotB ΔdegS","t":0.25,"v":0.70},{"s":"ΔmotB ΔdegS","t":0.3,"v":0.76},{"s":"ΔmotB ΔdegS","t":0.35,"v":0.82},{"s":"ΔmotB ΔdegS","t":0.4,"v":0.86},{"s":"ΔmotB ΔdegS","t":0.45,"v":0.95},
{"s":"ΔmotB ΔdegS","t":0.5,"v":1.05},{"s":"ΔmotB ΔdegS","t":0.55,"v":1.12},{"s":"ΔmotB ΔdegS","t":0.6,"v":1.30},{"s":"ΔmotB ΔdegS","t":0.65,"v":1.52},{"s":"ΔmotB ΔdegS","t":0.7,"v":1.55},{"s":"ΔmotB ΔdegS","t":0.75,"v":1.62},{"s":"ΔmotB ΔdegS","t":0.8,"v":1.58},{"s":"ΔmotB ΔdegS","t":0.85,"v":1.56},{"s":"ΔmotB ΔdegS","t":0.9,"v":1.62},{"s":"ΔmotB ΔdegS","t":0.95,"v":1.58},
{"s":"ΔmotB ΔdegS","t":1.0,"v":1.70},{"s":"ΔmotB ΔdegS","t":1.05,"v":1.75},{"s":"ΔmotB ΔdegS","t":1.1,"v":1.62},{"s":"ΔmotB ΔdegS","t":1.15,"v":1.44},{"s":"ΔmotB ΔdegS","t":1.2,"v":1.32},{"s":"ΔmotB ΔdegS","t":1.25,"v":1.26},{"s":"ΔmotB ΔdegS","t":1.3,"v":1.22},{"s":"ΔmotB ΔdegS","t":1.35,"v":1.40},{"s":"ΔmotB ΔdegS","t":1.4,"v":1.85},{"s":"ΔmotB ΔdegS","t":1.45,"v":2.25},
{"s":"ΔmotB ΔdegS","t":1.5,"v":2.42},{"s":"ΔmotB ΔdegS","t":1.55,"v":2.55},{"s":"ΔmotB ΔdegS","t":1.6,"v":2.68},{"s":"ΔmotB ΔdegS","t":1.65,"v":2.60},{"s":"ΔmotB ΔdegS","t":1.7,"v":2.50},{"s":"ΔmotB ΔdegS","t":1.75,"v":2.42},{"s":"ΔmotB ΔdegS","t":1.8,"v":2.55},{"s":"ΔmotB ΔdegS","t":1.85,"v":2.68},{"s":"ΔmotB ΔdegS","t":1.9,"v":2.78},{"s":"ΔmotB ΔdegS","t":1.95,"v":2.95},
{"s":"ΔmotB ΔdegS","t":2.0,"v":3.10},{"s":"ΔmotB ΔdegS","t":2.05,"v":3.32},{"s":"ΔmotB ΔdegS","t":2.1,"v":3.62},{"s":"ΔmotB ΔdegS","t":2.15,"v":3.92},{"s":"ΔmotB ΔdegS","t":2.2,"v":4.25},{"s":"ΔmotB ΔdegS","t":2.25,"v":4.62},{"s":"ΔmotB ΔdegS","t":2.3,"v":4.80},{"s":"ΔmotB ΔdegS","t":2.35,"v":4.88},{"s":"ΔmotB ΔdegS","t":2.4,"v":4.70},{"s":"ΔmotB ΔdegS","t":2.45,"v":4.92},
{"s":"ΔmotB ΔdegS","t":2.5,"v":4.72},{"s":"ΔmotB ΔdegS","t":2.55,"v":4.85},{"s":"ΔmotB ΔdegS","t":2.6,"v":4.90},{"s":"ΔmotB ΔdegS","t":2.65,"v":4.95},{"s":"ΔmotB ΔdegS","t":2.7,"v":5.02},{"s":"ΔmotB ΔdegS","t":2.75,"v":5.15},{"s":"ΔmotB ΔdegS","t":2.8,"v":5.30},{"s":"ΔmotB ΔdegS","t":2.85,"v":5.55},{"s":"ΔmotB ΔdegS","t":2.9,"v":5.85},{"s":"ΔmotB ΔdegS","t":2.95,"v":6.15},
{"s":"ΔmotB ΔdegS","t":3.0,"v":6.40},{"s":"ΔmotB ΔdegS","t":3.05,"v":6.58},{"s":"ΔmotB ΔdegS","t":3.1,"v":6.65},{"s":"ΔmotB ΔdegS","t":3.15,"v":6.72},{"s":"ΔmotB ΔdegS","t":3.2,"v":6.70},{"s":"ΔmotB ΔdegS","t":3.25,"v":6.82},{"s":"ΔmotB ΔdegS","t":3.3,"v":6.86},{"s":"ΔmotB ΔdegS","t":3.35,"v":6.92},{"s":"ΔmotB ΔdegS","t":3.4,"v":6.99},{"s":"ΔmotB ΔdegS","t":3.45,"v":7.05},
{"s":"ΔmotB ΔdegS","t":3.5,"v":7.18},{"s":"ΔmotB ΔdegS","t":3.55,"v":7.25},{"s":"ΔmotB ΔdegS","t":3.6,"v":7.38},{"s":"ΔmotB ΔdegS","t":3.65,"v":7.48},{"s":"ΔmotB ΔdegS","t":3.7,"v":7.55},{"s":"ΔmotB ΔdegS","t":3.75,"v":7.62},{"s":"ΔmotB ΔdegS","t":3.8,"v":7.74},{"s":"ΔmotB ΔdegS","t":3.85,"v":7.80},{"s":"ΔmotB ΔdegS","t":3.9,"v":7.95},{"s":"ΔmotB ΔdegS","t":3.95,"v":8.05},
{"s":"ΔmotB ΔdegS","t":4.0,"v":8.15},{"s":"ΔmotB ΔdegS","t":4.05,"v":8.20},{"s":"ΔmotB ΔdegS","t":4.1,"v":8.28},{"s":"ΔmotB ΔdegS","t":4.15,"v":8.22},{"s":"ΔmotB ΔdegS","t":4.2,"v":7.90},{"s":"ΔmotB ΔdegS","t":4.25,"v":7.50},{"s":"ΔmotB ΔdegS","t":4.3,"v":7.15},{"s":"ΔmotB ΔdegS","t":4.35,"v":6.94},{"s":"ΔmotB ΔdegS","t":4.4,"v":6.55},{"s":"ΔmotB ΔdegS","t":4.45,"v":6.28},
{"s":"ΔmotB ΔdegS","t":4.5,"v":6.06},{"s":"ΔmotB ΔdegS","t":4.55,"v":5.88},{"s":"ΔmotB ΔdegS","t":4.6,"v":5.72},{"s":"ΔmotB ΔdegS","t":4.65,"v":5.55},{"s":"ΔmotB ΔdegS","t":4.7,"v":5.42},{"s":"ΔmotB ΔdegS","t":4.75,"v":5.30},{"s":"ΔmotB ΔdegS","t":4.8,"v":5.20},{"s":"ΔmotB ΔdegS","t":4.85,"v":5.12},{"s":"ΔmotB ΔdegS","t":4.9,"v":5.02},{"s":"ΔmotB ΔdegS","t":4.95,"v":4.92},
{"s":"ΔmotB ΔdegS","t":5.0,"v":4.85},{"s":"ΔmotB ΔdegS","t":5.05,"v":4.78},{"s":"ΔmotB ΔdegS","t":5.1,"v":4.72},{"s":"ΔmotB ΔdegS","t":5.15,"v":4.65},{"s":"ΔmotB ΔdegS","t":5.2,"v":4.58},{"s":"ΔmotB ΔdegS","t":5.25,"v":4.52},{"s":"ΔmotB ΔdegS","t":5.3,"v":4.46},{"s":"ΔmotB ΔdegS","t":5.35,"v":4.38},{"s":"ΔmotB ΔdegS","t":5.4,"v":4.32},{"s":"ΔmotB ΔdegS","t":5.45,"v":4.22},
{"s":"ΔmotB ΔdegS","t":5.5,"v":4.18},{"s":"ΔmotB ΔdegS","t":5.55,"v":4.12},{"s":"ΔmotB ΔdegS","t":5.6,"v":4.10},{"s":"ΔmotB ΔdegS","t":5.65,"v":4.08},{"s":"ΔmotB ΔdegS","t":5.7,"v":4.00},{"s":"ΔmotB ΔdegS","t":5.75,"v":3.95},{"s":"ΔmotB ΔdegS","t":5.8,"v":3.88},{"s":"ΔmotB ΔdegS","t":5.85,"v":3.84},{"s":"ΔmotB ΔdegS","t":5.9,"v":3.78},{"s":"ΔmotB ΔdegS","t":5.95,"v":3.72},{"s":"ΔmotB ΔdegS","t":6.0,"v":3.70},

{"s":"ΔmotB degUᴰ⁵⁶ᴺ","t":0,"v":0.60},{"s":"ΔmotB degUᴰ⁵⁶ᴺ","t":0.05,"v":0.72},{"s":"ΔmotB degUᴰ⁵⁶ᴺ","t":0.1,"v":0.90},{"s":"ΔmotB degUᴰ⁵⁶ᴺ","t":0.15,"v":0.78},{"s":"ΔmotB degUᴰ⁵⁶ᴺ","t":0.2,"v":0.85},{"s":"ΔmotB degUᴰ⁵⁶ᴺ","t":0.25,"v":0.99},{"s":"ΔmotB degUᴰ⁵⁶ᴺ","t":0.3,"v":1.12},{"s":"ΔmotB degUᴰ⁵⁶ᴺ","t":0.35,"v":1.28},{"s":"ΔmotB degUᴰ⁵⁶ᴺ","t":0.4,"v":1.38},{"s":"ΔmotB degUᴰ⁵⁶ᴺ","t":0.45,"v":1.50},
{"s":"ΔmotB degUᴰ⁵⁶ᴺ","t":0.5,"v":1.62},{"s":"ΔmotB degUᴰ⁵⁶ᴺ","t":0.55,"v":1.95},{"s":"ΔmotB degUᴰ⁵⁶ᴺ","t":0.6,"v":2.05},{"s":"ΔmotB degUᴰ⁵⁶ᴺ","t":0.65,"v":2.15},{"s":"ΔmotB degUᴰ⁵⁶ᴺ","t":0.7,"v":2.12},{"s":"ΔmotB degUᴰ⁵⁶ᴺ","t":0.75,"v":2.10},{"s":"ΔmotB degUᴰ⁵⁶ᴺ","t":0.8,"v":2.18},{"s":"ΔmotB degUᴰ⁵⁶ᴺ","t":0.85,"v":2.06},{"s":"ΔmotB degUᴰ⁵⁶ᴺ","t":0.9,"v":2.12},{"s":"ΔmotB degUᴰ⁵⁶ᴺ","t":0.95,"v":2.20},
{"s":"ΔmotB degUᴰ⁵⁶ᴺ","t":1.0,"v":2.08},{"s":"ΔmotB degUᴰ⁵⁶ᴺ","t":1.05,"v":1.98},{"s":"ΔmotB degUᴰ⁵⁶ᴺ","t":1.1,"v":1.88},{"s":"ΔmotB degUᴰ⁵⁶ᴺ","t":1.15,"v":1.80},{"s":"ΔmotB degUᴰ⁵⁶ᴺ","t":1.2,"v":1.62},{"s":"ΔmotB degUᴰ⁵⁶ᴺ","t":1.25,"v":1.13},{"s":"ΔmotB degUᴰ⁵⁶ᴺ","t":1.3,"v":1.82},{"s":"ΔmotB degUᴰ⁵⁶ᴺ","t":1.35,"v":2.15},{"s":"ΔmotB degUᴰ⁵⁶ᴺ","t":1.4,"v":2.40},{"s":"ΔmotB degUᴰ⁵⁶ᴺ","t":1.45,"v":3.04},
{"s":"ΔmotB degUᴰ⁵⁶ᴺ","t":1.5,"v":3.00},{"s":"ΔmotB degUᴰ⁵⁶ᴺ","t":1.55,"v":2.92},{"s":"ΔmotB degUᴰ⁵⁶ᴺ","t":1.6,"v":2.86},{"s":"ΔmotB degUᴰ⁵⁶ᴺ","t":1.65,"v":2.75},{"s":"ΔmotB degUᴰ⁵⁶ᴺ","t":1.7,"v":2.70},{"s":"ΔmotB degUᴰ⁵⁶ᴺ","t":1.75,"v":2.78},{"s":"ΔmotB degUᴰ⁵⁶ᴺ","t":1.8,"v":2.85},{"s":"ΔmotB degUᴰ⁵⁶ᴺ","t":1.85,"v":2.99},{"s":"ΔmotB degUᴰ⁵⁶ᴺ","t":1.9,"v":3.05},{"s":"ΔmotB degUᴰ⁵⁶ᴺ","t":1.95,"v":3.20},
{"s":"ΔmotB degUᴰ⁵⁶ᴺ","t":2.0,"v":3.40},{"s":"ΔmotB degUᴰ⁵⁶ᴺ","t":2.05,"v":3.60},{"s":"ΔmotB degUᴰ⁵⁶ᴺ","t":2.1,"v":3.90},{"s":"ΔmotB degUᴰ⁵⁶ᴺ","t":2.15,"v":4.12},{"s":"ΔmotB degUᴰ⁵⁶ᴺ","t":2.2,"v":4.45},{"s":"ΔmotB degUᴰ⁵⁶ᴺ","t":2.25,"v":4.80},{"s":"ΔmotB degUᴰ⁵⁶ᴺ","t":2.3,"v":4.95},{"s":"ΔmotB degUᴰ⁵⁶ᴺ","t":2.35,"v":5.10},{"s":"ΔmotB degUᴰ⁵⁶ᴺ","t":2.4,"v":5.30},{"s":"ΔmotB degUᴰ⁵⁶ᴺ","t":2.45,"v":5.48},
{"s":"ΔmotB degUᴰ⁵⁶ᴺ","t":2.5,"v":4.81},{"s":"ΔmotB degUᴰ⁵⁶ᴺ","t":2.55,"v":5.00},{"s":"ΔmotB degUᴰ⁵⁶ᴺ","t":2.6,"v":5.08},{"s":"ΔmotB degUᴰ⁵⁶ᴺ","t":2.65,"v":5.15},{"s":"ΔmotB degUᴰ⁵⁶ᴺ","t":2.7,"v":5.12},{"s":"ΔmotB degUᴰ⁵⁶ᴺ","t":2.75,"v":5.25},{"s":"ΔmotB degUᴰ⁵⁶ᴺ","t":2.8,"v":5.44},{"s":"ΔmotB degUᴰ⁵⁶ᴺ","t":2.85,"v":5.70},{"s":"ΔmotB degUᴰ⁵⁶ᴺ","t":2.9,"v":5.95},{"s":"ΔmotB degUᴰ⁵⁶ᴺ","t":2.95,"v":6.25},
{"s":"ΔmotB degUᴰ⁵⁶ᴺ","t":3.0,"v":6.50},{"s":"ΔmotB degUᴰ⁵⁶ᴺ","t":3.05,"v":6.77},{"s":"ΔmotB degUᴰ⁵⁶ᴺ","t":3.1,"v":7.00},{"s":"ΔmotB degUᴰ⁵⁶ᴺ","t":3.15,"v":7.21},{"s":"ΔmotB degUᴰ⁵⁶ᴺ","t":3.2,"v":7.35},{"s":"ΔmotB degUᴰ⁵⁶ᴺ","t":3.25,"v":7.48},{"s":"ΔmotB degUᴰ⁵⁶ᴺ","t":3.3,"v":7.60},{"s":"ΔmotB degUᴰ⁵⁶ᴺ","t":3.35,"v":7.74},{"s":"ΔmotB degUᴰ⁵⁶ᴺ","t":3.4,"v":7.82},{"s":"ΔmotB degUᴰ⁵⁶ᴺ","t":3.45,"v":7.92},
{"s":"ΔmotB degUᴰ⁵⁶ᴺ","t":3.5,"v":7.98},{"s":"ΔmotB degUᴰ⁵⁶ᴺ","t":3.55,"v":8.10},{"s":"ΔmotB degUᴰ⁵⁶ᴺ","t":3.6,"v":8.20},{"s":"ΔmotB degUᴰ⁵⁶ᴺ","t":3.65,"v":8.32},{"s":"ΔmotB degUᴰ⁵⁶ᴺ","t":3.7,"v":8.54},{"s":"ΔmotB degUᴰ⁵⁶ᴺ","t":3.75,"v":8.58},{"s":"ΔmotB degUᴰ⁵⁶ᴺ","t":3.8,"v":8.62},{"s":"ΔmotB degUᴰ⁵⁶ᴺ","t":3.85,"v":8.77},{"s":"ΔmotB degUᴰ⁵⁶ᴺ","t":3.9,"v":8.70},{"s":"ΔmotB degUᴰ⁵⁶ᴺ","t":3.95,"v":8.92},
{"s":"ΔmotB degUᴰ⁵⁶ᴺ","t":4.0,"v":8.85},{"s":"ΔmotB degUᴰ⁵⁶ᴺ","t":4.05,"v":8.95},{"s":"ΔmotB degUᴰ⁵⁶ᴺ","t":4.1,"v":9.05},{"s":"ΔmotB degUᴰ⁵⁶ᴺ","t":4.15,"v":8.54},{"s":"ΔmotB degUᴰ⁵⁶ᴺ","t":4.2,"v":8.15},{"s":"ΔmotB degUᴰ⁵⁶ᴺ","t":4.25,"v":7.70},{"s":"ΔmotB degUᴰ⁵⁶ᴺ","t":4.3,"v":7.30},{"s":"ΔmotB degUᴰ⁵⁶ᴺ","t":4.35,"v":6.80},{"s":"ΔmotB degUᴰ⁵⁶ᴺ","t":4.4,"v":6.30},{"s":"ΔmotB degUᴰ⁵⁶ᴺ","t":4.45,"v":5.97},
{"s":"ΔmotB degUᴰ⁵⁶ᴺ","t":4.5,"v":5.75},{"s":"ΔmotB degUᴰ⁵⁶ᴺ","t":4.55,"v":5.55},{"s":"ΔmotB degUᴰ⁵⁶ᴺ","t":4.6,"v":5.30},{"s":"ΔmotB degUᴰ⁵⁶ᴺ","t":4.65,"v":5.15},{"s":"ΔmotB degUᴰ⁵⁶ᴺ","t":4.7,"v":5.02},{"s":"ΔmotB degUᴰ⁵⁶ᴺ","t":4.75,"v":4.90},{"s":"ΔmotB degUᴰ⁵⁶ᴺ","t":4.8,"v":4.80},{"s":"ΔmotB degUᴰ⁵⁶ᴺ","t":4.85,"v":4.68},{"s":"ΔmotB degUᴰ⁵⁶ᴺ","t":4.9,"v":4.62},{"s":"ΔmotB degUᴰ⁵⁶ᴺ","t":4.95,"v":4.52},
{"s":"ΔmotB degUᴰ⁵⁶ᴺ","t":5.0,"v":4.45},{"s":"ΔmotB degUᴰ⁵⁶ᴺ","t":5.05,"v":4.37},{"s":"ΔmotB degUᴰ⁵⁶ᴺ","t":5.1,"v":4.30},{"s":"ΔmotB degUᴰ⁵⁶ᴺ","t":5.15,"v":4.25},{"s":"ΔmotB degUᴰ⁵⁶ᴺ","t":5.2,"v":4.22},{"s":"ΔmotB degUᴰ⁵⁶ᴺ","t":5.25,"v":4.15},{"s":"ΔmotB degUᴰ⁵⁶ᴺ","t":5.3,"v":4.10},{"s":"ΔmotB degUᴰ⁵⁶ᴺ","t":5.35,"v":4.05},{"s":"ΔmotB degUᴰ⁵⁶ᴺ","t":5.4,"v":4.00},{"s":"ΔmotB degUᴰ⁵⁶ᴺ","t":5.45,"v":3.95},
{"s":"ΔmotB degUᴰ⁵⁶ᴺ","t":5.5,"v":3.90},{"s":"ΔmotB degUᴰ⁵⁶ᴺ","t":5.55,"v":3.85},{"s":"ΔmotB degUᴰ⁵⁶ᴺ","t":5.6,"v":3.82},{"s":"ΔmotB degUᴰ⁵⁶ᴺ","t":5.65,"v":3.78},{"s":"ΔmotB degUᴰ⁵⁶ᴺ","t":5.7,"v":3.72},{"s":"ΔmotB degUᴰ⁵⁶ᴺ","t":5.75,"v":3.68},{"s":"ΔmotB degUᴰ⁵⁶ᴺ","t":5.8,"v":3.62},{"s":"ΔmotB degUᴰ⁵⁶ᴺ","t":5.85,"v":3.60},{"s":"ΔmotB degUᴰ⁵⁶ᴺ","t":5.9,"v":3.58},{"s":"ΔmotB degUᴰ⁵⁶ᴺ","t":5.95,"v":3.55},{"s":"ΔmotB degUᴰ⁵⁶ᴺ","t":6.0,"v":3.52}
]
},
"vconcat": [
{
  "width": 551, "height": 373,
  "layer": [
    {"data": {"name": "A"}, "mark": {"type": "line", "strokeWidth": 2.6},
     "encoding": {
       "x": {"field": "t", "type": "quantitative", "scale": {"domain": [0, 6], "nice": false}, "axis": {"values": [0, 2, 4, 6], "format": "d", "title": "Time (h)", "titlePadding": -2, "labelPadding": 23}},
       "y": {"field": "v", "type": "quantitative", "scale": {"domain": [0, 10], "nice": false}, "axis": {"values": [0, 2, 4, 6, 8, 10], "format": "d", "title": "(RLU/OD) x 10⁴", "titlePadding": 36, "labelPadding": 14}},
       "color": {"field": "s", "type": "nominal", "scale": {"domain": ["WT", "Δhag", "Δhag ΔdegS", "Δhag degUᴰ⁵⁶ᴺ"], "range": ["#000000", "#ED7D31", "#4472C4", "#C00000"]},
         "legend": {"title": null, "legendX": 508, "legendY": 12, "encode": {"labels": {"update": {"fontStyle": {"signal": "datum.value === 'WT' ? 'normal' : 'italic'"}}}}}}
     }},
    {"data": {"values": [{"t": 2.93, "v": 0.44, "label": "↓"}]}, "mark": {"type": "text", "fontSize": 44, "font": "DejaVu Sans", "fontWeight": 200, "baseline": "middle", "align": "center"},
     "encoding": {"x": {"field": "t", "type": "quantitative"}, "y": {"field": "v", "type": "quantitative"}, "text": {"field": "label"}}},
    {"data": {"values": [{"t": -1.04, "v": 10.63, "label": "A"}]}, "mark": {"type": "text", "fontSize": 36, "baseline": "alphabetic", "align": "center"},
     "encoding": {"x": {"field": "t", "type": "quantitative"}, "y": {"field": "v", "type": "quantitative"}, "text": {"field": "label"}}},
    {"data": {"values": [{"t": 1.62, "v": 10.47, "label": "P"}, {"t": 3.26, "v": 10.47, "label": "Δ"}]}, "mark": {"type": "text", "fontSize": 31, "baseline": "alphabetic", "align": "right"},
     "encoding": {"x": {"field": "t", "type": "quantitative"}, "y": {"field": "v", "type": "quantitative"}, "text": {"field": "label"}}},
    {"data": {"values": [{"t": 1.62, "v": 10.47, "label": "comK-luc"}, {"t": 3.26, "v": 10.47, "label": "comK"}]}, "mark": {"type": "text", "fontSize": 31, "fontStyle": "italic", "baseline": "alphabetic", "align": "left"},
     "encoding": {"x": {"field": "t", "type": "quantitative"}, "y": {"field": "v", "type": "quantitative"}, "text": {"field": "label"}}}
  ]
},
{
  "width": 551, "height": 376,
  "layer": [
    {"data": {"name": "B"}, "mark": {"type": "line", "strokeWidth": 2.6},
     "encoding": {
       "x": {"field": "t", "type": "quantitative", "scale": {"domain": [0, 6], "nice": false}, "axis": {"values": [0, 2, 4, 6], "format": "d", "title": "Time (h)", "titlePadding": -2, "labelPadding": 23}},
       "y": {"field": "v", "type": "quantitative", "scale": {"domain": [0, 10], "nice": false}, "axis": {"values": [0, 2, 4, 6, 8, 10], "format": "d", "title": "(RLU/OD) x 10⁴", "titlePadding": 36, "labelPadding": 14}},
       "color": {"field": "s", "type": "nominal", "scale": {"domain": ["WT", "ΔmotB", "ΔmotB ΔdegS", "ΔmotB degUᴰ⁵⁶ᴺ"], "range": ["#000000", "#00B050", "#0070C0", "#C00000"]},
         "legend": {"title": null, "legendX": 508, "legendY": -4, "encode": {"labels": {"update": {"fontStyle": {"signal": "datum.value === 'WT' ? 'normal' : 'italic'"}}}}}}
     }},
    {"data": {"values": [{"t": 2.93, "v": 0.44, "label": "↓"}]}, "mark": {"type": "text", "fontSize": 44, "font": "DejaVu Sans", "fontWeight": 200, "baseline": "middle", "align": "center"},
     "encoding": {"x": {"field": "t", "type": "quantitative"}, "y": {"field": "v", "type": "quantitative"}, "text": {"field": "label"}}},
    {"data": {"values": [{"t": -1.04, "v": 10.72, "label": "B"}]}, "mark": {"type": "text", "fontSize": 36, "baseline": "alphabetic", "align": "center"},
     "encoding": {"x": {"field": "t", "type": "quantitative"}, "y": {"field": "v", "type": "quantitative"}, "text": {"field": "label"}}},
    {"data": {"values": [{"t": 1.62, "v": 11.09, "label": "P"}, {"t": 3.26, "v": 11.09, "label": "Δ"}]}, "mark": {"type": "text", "fontSize": 31, "baseline": "alphabetic", "align": "right"},
     "encoding": {"x": {"field": "t", "type": "quantitative"}, "y": {"field": "v", "type": "quantitative"}, "text": {"field": "label"}}},
    {"data": {"values": [{"t": 1.62, "v": 11.09, "label": "comK-luc"}, {"t": 3.26, "v": 11.09, "label": "comK"}]}, "mark": {"type": "text", "fontSize": 31, "fontStyle": "italic", "baseline": "alphabetic", "align": "left"},
     "encoding": {"x": {"field": "t", "type": "quantitative"}, "y": {"field": "v", "type": "quantitative"}, "text": {"field": "label"}}}
  ]
}
]
}
